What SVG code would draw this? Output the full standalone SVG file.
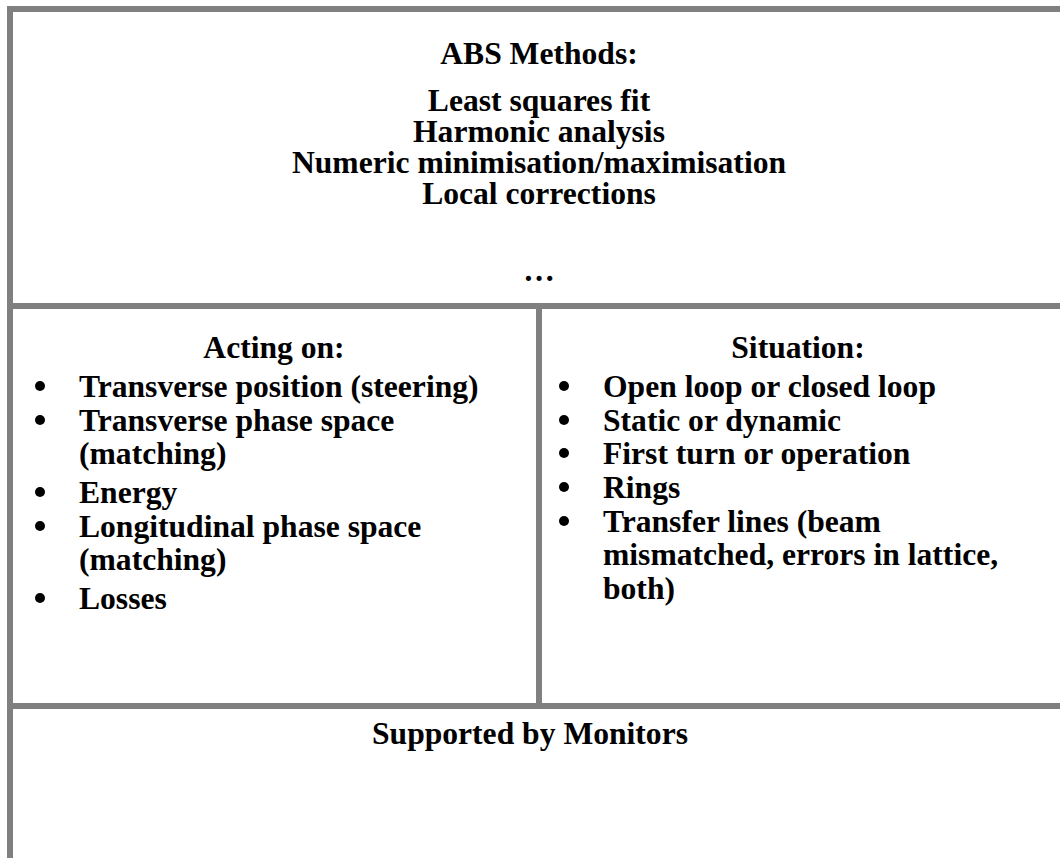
<svg xmlns="http://www.w3.org/2000/svg" width="1060" height="858" viewBox="0 0 1060 858">
<style>
.ln{stroke:#808080;stroke-width:6;fill:none}
text{font-family:"Liberation Serif","Times New Roman",serif;font-weight:bold;font-size:31.6px;fill:#000}
.c{text-anchor:middle}
</style>
<rect width="1060" height="858" fill="#fff"/>
<g id="frame">
<line class="ln" x1="10" y1="6" x2="10" y2="858"/>
<line class="ln" x1="7" y1="9" x2="1060" y2="9"/>
<line class="ln" x1="7" y1="306" x2="1060" y2="306"/>
<line class="ln" x1="539" y1="306" x2="539" y2="706"/>
<line class="ln" x1="7" y1="706" x2="1060" y2="706"/>
</g>
<g id="methods">
<text class="c" x="539" y="64">ABS Methods:</text>
<text class="c" x="539" y="111">Least squares fit</text>
<text class="c" x="539" y="142">Harmonic analysis</text>
<text class="c" x="539" y="173">Numeric minimisation/maximisation</text>
<text class="c" x="539" y="204">Local corrections</text>
<text class="c" x="539" y="281">…</text>
</g>
<g id="acting">
<text class="c" x="274" y="358">Acting on:</text>
<circle cx="40" cy="386" r="5"/><text x="79" y="397">Transverse position (steering)</text>
<circle cx="40" cy="420" r="5"/><text x="79" y="431">Transverse phase space</text>
<text x="79" y="464">(matching)</text>
<circle cx="40" cy="492" r="5"/><text x="79" y="503">Energy</text>
<circle cx="40" cy="526" r="5"/><text x="79" y="537">Longitudinal phase space</text>
<text x="79" y="570">(matching)</text>
<circle cx="40" cy="598" r="5"/><text x="79" y="609">Losses</text>
</g>
<g id="situation">
<text class="c" x="798" y="358">Situation:</text>
<circle cx="564" cy="386" r="5"/><text x="603" y="397">Open loop or closed loop</text>
<circle cx="564" cy="420" r="5"/><text x="603" y="431">Static or dynamic</text>
<circle cx="564" cy="453" r="5"/><text x="603" y="464">First turn or operation</text>
<circle cx="564" cy="487" r="5"/><text x="603" y="498">Rings</text>
<circle cx="564" cy="521" r="5"/><text x="603" y="532">Transfer lines (beam</text>
<text x="603" y="565">mismatched, errors in lattice,</text>
<text x="603" y="599">both)</text>
</g>
<g id="monitors">
<text class="c" x="530" y="744">Supported by Monitors</text>
</g>
</svg>
